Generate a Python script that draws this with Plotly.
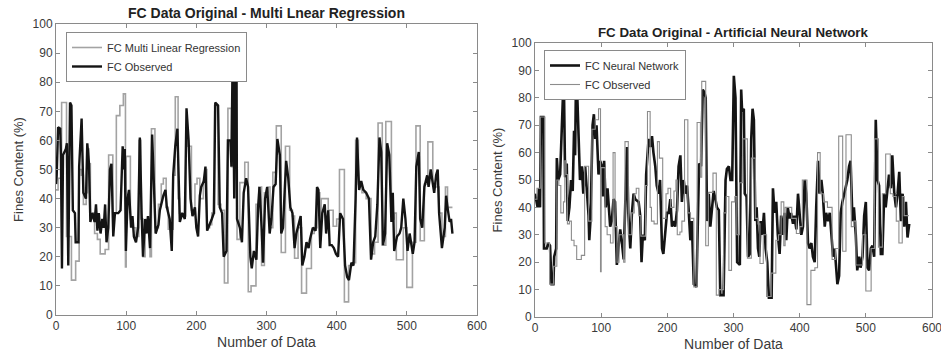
import plotly.graph_objects as go

# ---- data ----
# gray series (stepped): "FC Multi Linear Regression" on the left, "FC Observed" on the right
gray_x = [0, 3, 8, 15, 22, 28, 33, 36, 39, 43, 45, 47, 49, 52, 55, 59, 63, 70, 75, 81,
          86, 91, 96, 99, 100, 106, 109, 114, 118, 121, 124, 127, 131, 134, 136, 141, 146,
          150, 153, 157, 160, 167, 170, 174, 176, 180, 185, 188, 193, 198, 201, 205, 210,
          213, 215, 219, 222, 226, 231, 235, 240, 245, 250, 252, 258, 262, 269, 274, 278,
          285, 289, 293, 297, 302, 305, 309, 314, 321, 327, 333, 337, 340, 345, 350, 357,
          364, 368, 372, 376, 378, 388, 395, 400, 404, 411, 417, 423, 427, 431, 436, 442,
          449, 454, 459, 465, 470, 478, 482, 485, 495, 500, 508, 513, 519, 525, 530, 537,
          541, 546, 550, 555, 558, 565]
gray_y = [43, 47, 73, 27, 12, 18.5, 50, 48, 38, 42, 57, 52, 34, 35, 28, 26, 21, 22.5, 55, 35,
          68.5, 72, 76, 16.5, 54.5, 33, 30, 27, 60, 33, 20, 30, 30, 20, 64, 30, 38,
          45, 47, 37, 29.5, 48, 75, 40, 35, 34, 64, 58, 36, 45, 47, 40, 46,
          50, 30, 31, 35, 72, 38, 36, 11, 71, 51, 86, 26, 45.5, 52.5, 8, 10,
          38, 44, 17, 42, 44, 30, 49, 65, 21.5, 58, 36, 34, 19.5, 30, 7.5, 16,
          28, 30, 42, 26, 40, 36, 30.5, 33, 50, 4.5, 17, 18, 60, 45, 42, 40,
          21, 25, 66, 24, 66.5, 33, 35, 19, 30, 9.5, 25, 65, 25.5, 45, 59.5, 45,
          44, 35, 27, 44, 37, 37]

# left black: "FC Observed"
obs_x = [0, 1, 3, 6, 7, 8.5, 10, 14, 15.5, 17.5, 20, 22, 24, 27, 28, 32, 33, 36.5, 39, 42.7,
         44.6, 47, 49, 52, 55, 57, 59, 61, 63.5, 66, 68, 70, 72, 74.5, 77, 79, 81.6, 84, 88.7,
         92, 95, 97, 98, 99.6, 102, 104, 107, 109, 111, 114, 117, 119.5, 122, 124, 127, 129,
         131, 134, 137, 139.5, 142, 146, 148, 153, 156, 158, 162, 165, 167, 170, 173, 176.5,
         180, 183.6, 186, 189, 191.7, 194.5, 198, 200, 202.5, 205, 207, 210.6, 213, 215.4,
         219, 222, 225, 227, 231, 233.4, 236.7, 239, 243, 245, 248.6, 250, 252, 254, 255.5,
         257, 258, 262, 265, 267.5, 271, 273.7, 277, 279, 282, 285.6, 288, 290, 293, 295, 298,
         301, 304.5, 307, 310, 313, 315.5, 319, 321, 323.5, 326, 328, 331, 334, 337, 340,
         342.5, 346, 348.7, 351, 354, 357, 360, 362, 366, 370, 372, 374, 376.6, 379.5, 383,
         385, 388, 390, 393, 396, 399, 402, 405, 409, 412, 415, 417.5, 421, 424, 427, 429,
         432, 435, 438, 442, 446, 449, 452, 455, 458, 461, 463.5, 466, 469, 472, 475, 478,
         480, 482, 486, 489.6, 492, 495, 498, 501, 504, 506, 508.5, 511, 513.5, 517, 519,
         522, 525, 529, 531, 534, 537, 539, 541.7, 544, 546, 550, 554, 556, 558, 561, 563, 565]
obs_y = [45, 48, 64.5, 64, 55, 16, 55, 57, 59, 17, 73, 72, 36, 35, 25, 25, 51, 67.5, 42, 40,
         59, 52, 32, 35, 32, 38, 29, 35, 28, 33, 30, 38, 25, 30, 50, 52, 27, 35, 35,
         36, 58, 50, 57, 22, 40, 43, 30, 34, 27, 25, 30, 61, 35, 20, 33, 28,
         34, 23, 62, 48, 28, 31, 36, 41, 43, 37, 33, 22, 48, 58, 64, 32,
         35, 33, 71, 60, 40, 34, 37, 30, 27, 41, 44, 46, 51, 29,
         31, 33, 35, 73, 72, 37, 35, 20, 22, 60, 60, 51, 95, 40, 95,
         95, 33, 30, 25, 42, 47, 44, 20, 16, 22, 19, 37, 44, 30, 18, 40,
         44, 28, 33, 44, 45, 60.5, 55, 28, 30, 43, 53, 47, 37, 35, 23,
         28, 31, 34, 17, 20, 25, 23, 26, 30, 29, 44, 43, 23, 35, 38,
         28, 36, 24, 24, 23, 21, 20, 35, 33, 17, 13, 12, 18, 17, 40, 61,
         43, 46, 43, 42, 40, 19, 25, 27, 38, 61, 56, 24, 28, 59, 55, 32,
         42, 22, 27, 28, 30, 40, 33, 22, 28, 25, 21, 25, 51, 56, 33,
         30, 44, 48, 44, 50, 44, 42, 48, 50, 35, 23, 30, 41, 37, 32, 33, 28]

# right black: "FC Neural Network"
ann_x = [0, 2, 4, 6, 7.6, 9, 12.6, 13.6, 17.7, 20, 22.7, 25, 27.8, 29, 32, 33, 35, 38, 40, 42,
         44, 45.5, 48, 49.5, 52, 54.5, 57, 59, 60.6, 62, 64, 65.6, 68, 70.7, 73, 75.8, 78, 81,
         82, 84, 87, 89, 91, 93, 96, 98.5, 101, 102.5, 104.5, 107, 109.6, 112, 113.6, 116,
         118.7, 121, 123.7, 126, 128.8, 131, 134, 136, 139, 141, 144, 146.5, 149, 151.5,
         156.6, 159, 161, 163, 166, 168, 171.7, 174, 176.8, 179, 181.8, 184, 186.9, 189, 192,
         194, 197, 199.5, 202, 204.5, 207, 209.6, 212, 214.6, 217, 219.7, 222, 224.7, 227,
         229.8, 232, 234.8, 237, 240, 244, 246, 248, 251, 253.5, 256, 258, 260, 262.6, 265,
         267.7, 270, 272.7, 275, 277.8, 280, 285, 288, 290, 293, 295.5, 298, 300.5, 303,
         305.5, 309.6, 311.6, 313, 315.6, 317, 319.7, 322, 324.7, 326.8, 328.8, 330.8, 333,
         335, 337, 339, 341, 343.4, 346, 348.5, 351, 353.5, 357.6, 359.6, 362, 364.6, 367,
         369.7, 372, 374.7, 377, 379.8, 382, 384.8, 387, 389.9, 392, 395, 397.5, 400, 402.5,
         405, 407.6, 410, 412.6, 415, 417.7, 420, 422.7, 425, 427.8, 430, 432.8, 435, 437.9,
         440, 443, 445.5, 448, 450.5, 453, 455.6, 457, 459.6, 462, 464.6, 467, 469.7, 472,
         474.7, 477, 479.8, 482, 484.8, 487, 490, 492, 495, 497.5, 500, 502.5, 505, 507.6,
         510, 512.6, 515, 517.7, 520, 522.7, 525, 527.8, 530, 532.8, 535, 537.9, 540, 543,
         545.5, 548, 550.5, 553, 555.6, 558, 560.6, 563, 565.6]
ann_y = [45, 42, 40, 47, 40, 73, 73, 25, 25, 27, 26, 12, 12, 22, 25, 58, 50, 52, 70, 79,
         79, 51, 56, 35, 40, 50, 46, 68, 59, 87, 80, 68, 50, 55, 45, 55, 47, 37,
         28, 36, 70, 74, 65, 70, 52, 57, 55, 44, 57, 40, 47, 38, 33, 35,
         43, 42, 19, 25, 32, 28, 21, 38, 62, 38, 25, 38, 45, 43,
         42, 37, 20, 30, 28, 52, 65, 62, 66, 60, 55, 48, 45, 50, 25,
         23, 30, 38, 38, 43, 33, 35, 33, 39, 55, 59, 42, 50, 45,
         48, 40, 28, 35, 12, 11, 30, 56, 55, 83, 82, 80, 35, 45, 33,
         40, 46, 43, 40, 39, 8, 8, 50, 54, 55, 50, 50, 88, 80,
         20, 19, 83, 75, 76, 45, 44, 22, 23, 65, 76, 72, 35,
         40, 25, 22, 35, 30, 38, 25, 20, 7, 7, 47, 38, 42, 30,
         23, 37, 30, 38, 28, 40, 36, 38, 34, 37, 32, 45, 38, 30,
         33, 50, 45, 27, 25, 27, 22, 20, 40, 57, 45, 50, 45, 33,
         38, 35, 38, 30, 22, 25, 15, 12, 15, 38, 42, 45, 48, 50,
         55, 57, 35, 40, 30, 17, 22, 18, 22, 37, 42, 18, 17, 25,
         26, 22, 72, 50, 48, 23, 23, 45, 40, 48, 52, 47, 59, 45,
         40, 45, 53, 35, 45, 33, 42, 29, 34]

x_ticks = [0, 100, 200, 300, 400, 500, 600]
y_ticks = [0, 10, 20, 30, 40, 50, 60, 70, 80, 90, 100]

FONT = "Liberation Sans, Arial, sans-serif"
GRAY = "#a3a3a3"
BLACK = "#141414"

fig = go.Figure()

# Left panel
fig.add_trace(go.Scatter(x=gray_x, y=gray_y, mode="lines", line=dict(color=GRAY, width=1.6, shape="hv"),
                         name="FC Multi Linear Regression", xaxis="x", yaxis="y", legend="legend"))
fig.add_trace(go.Scatter(x=obs_x, y=obs_y, mode="lines", line=dict(color=BLACK, width=2.4),
                         name="FC Observed", xaxis="x", yaxis="y", legend="legend"))
# Right panel
fig.add_trace(go.Scatter(x=ann_x, y=ann_y, mode="lines", line=dict(color=BLACK, width=2.6),
                         name="FC Neural Network", xaxis="x2", yaxis="y2", legend="legend2"))
fig.add_trace(go.Scatter(x=gray_x, y=gray_y, mode="lines", line=dict(color="#8c8c8c", width=1.1, shape="hv"),
                         name="FC Observed", xaxis="x2", yaxis="y2", legend="legend2"))

W, H = 941, 354
def xd(a, b):
    return [a / W, b / W]
def yd(top, bottom):
    return [1 - bottom / H, 1 - top / H]

axis_common = dict(showgrid=False, zeroline=False, showline=True, linecolor="#8a8a8a", linewidth=1,
                   mirror="ticks", ticks="inside", ticklen=4, tickcolor="#8a8a8a", automargin=False,
                   ticklabeloverflow="allow",
                   tickfont=dict(family=FONT, size=12, color="#3a3a3a"))

fig.update_layout(
    width=W, height=H, margin=dict(l=0, r=0, t=0, b=0, autoexpand=False),
    paper_bgcolor="white", plot_bgcolor="white",
    font=dict(family=FONT),
    xaxis=dict(domain=xd(56, 477), range=[0, 600], tickvals=x_ticks, anchor="y",
               title=dict(text="Number of Data", font=dict(size=14, color="#3a3a3a"), standoff=4), **axis_common),
    yaxis=dict(domain=yd(24, 315), range=[0, 100], tickvals=y_ticks, anchor="x",
               title=dict(text="Fines Content (%)", font=dict(size=13, color="#3a3a3a"), standoff=6), **axis_common),
    xaxis2=dict(domain=xd(535, 932), range=[0, 600], tickvals=x_ticks, anchor="y2",
                title=dict(text="Number of Data", font=dict(size=14, color="#3a3a3a"), standoff=4), **axis_common),
    yaxis2=dict(domain=yd(43, 317), range=[0, 100], tickvals=y_ticks, anchor="x2",
                title=dict(text="Fines Content (%)", font=dict(size=13, color="#3a3a3a"), standoff=6), **axis_common),
    legend=dict(x=66 / W, y=1 - 32 / H, xanchor="left", yanchor="top", bgcolor="white",
                bordercolor="#8a8a8a", borderwidth=1, font=dict(family=FONT, size=11, color="#333"),
                tracegroupgap=0, itemwidth=30),
    legend2=dict(x=544 / W, y=1 - 50 / H, xanchor="left", yanchor="top", bgcolor="white",
                 bordercolor="#8a8a8a", borderwidth=1, font=dict(family=FONT, size=11, color="#333"),
                 tracegroupgap=0, itemwidth=30),
    annotations=[
        dict(text="<b>FC Data Original - Multi Lnear Regression</b>", x=(56 + 477) / 2 / W, y=1 - 13 / H,
             xref="paper", yref="paper", xanchor="center", yanchor="middle", showarrow=False,
             font=dict(family=FONT, size=14, color="#222")),
        dict(text="<b>FC Data Original - Artificial Neural Network</b>", x=(535 + 932) / 2 / W, y=1 - 32 / H,
             xref="paper", yref="paper", xanchor="center", yanchor="middle", showarrow=False,
             font=dict(family=FONT, size=13.3, color="#222")),
    ],
)

fig.write_html("out.html", config={"displayModeBar": False},
               post_script="document.body.style.margin='0';document.body.style.overflow='hidden';")
